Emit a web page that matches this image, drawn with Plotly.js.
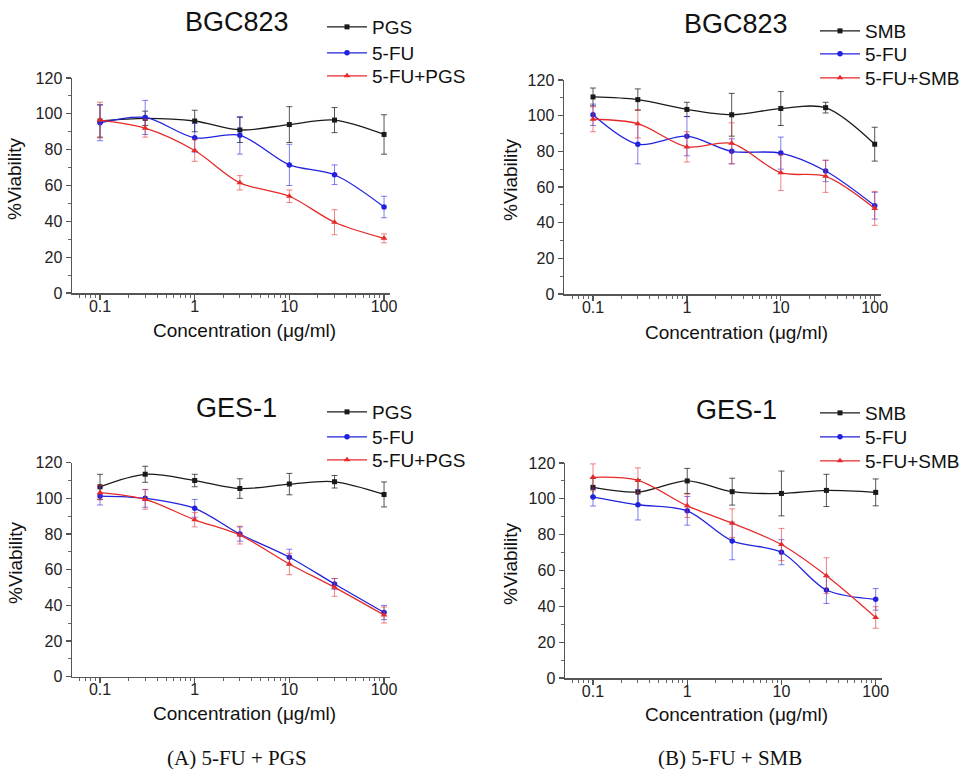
<!DOCTYPE html>
<html>
<head>
<meta charset="utf-8">
<script src="https://cdn.plot.ly/plotly-3.0.1.min.js"></script>
<style>html,body{margin:0;padding:0;background:#fff;}#chart{width:966px;height:769px;}</style>
</head>
<body>
<div id="chart"></div>
<script>
// ---- data ----
const concentrations = [0.1, 0.3, 1, 3, 10, 30, 100];

// (A) BGC823
const bgcPGS = [96, 97.5, 96, 91, 94, 96.5, 88.5];
const bgcPGSErr = [9, 4, 6, 7, 10, 7, 11];
const bgcFU_A = [95, 98, 86.6, 88, 71.5, 66, 48];
const bgcFU_AErr = [10, 9.5, 8, 10.5, 11.5, 5.5, 6];
const bgcFUPGS = [96.5, 92, 79.5, 61.5, 54, 39.5, 30.5];
const bgcFUPGSErr = [10, 5, 6, 4, 3.5, 7, 2.5];

// (B) BGC823
const bgcSMB = [110.5, 109, 103.5, 100.5, 104, 104.5, 84];
const bgcSMBErr = [5, 6, 4, 12, 9.5, 3, 9.5];
const bgcFU_B = [100.5, 84, 88.5, 80, 79, 69, 49.5];
const bgcFU_BErr = [6, 11, 11, 7, 9, 6, 7.5];
const bgcFUSMB = [98, 95.5, 82.5, 84.5, 68, 66, 48];
const bgcFUSMBErr = [7, 8, 8.5, 11.5, 10, 9, 9.5];

// (A) GES-1
const gesPGS = [106.5, 113.5, 110, 105.5, 108, 109.3, 102.2];
const gesPGSErr = [7, 4.5, 3.5, 5.5, 6, 3.5, 7];
const gesFU_A = [101.3, 100, 94.4, 80, 67, 52, 36];
const gesFU_AErr = [5, 5, 5, 4, 4.5, 3, 4];
const gesFUPGS = [103.2, 99.4, 88, 79.4, 63.2, 50.1, 34.6];
const gesFUPGSErr = [4, 5.5, 4, 5, 6, 5, 4.5];

// (B) GES-1
const gesSMB = [106.4, 103.8, 110, 104, 103, 104.7, 103.6];
const gesSMBErr = [5, 7, 7, 7.5, 12.5, 9, 7.5];
const gesFU_B = [101, 96.7, 93.3, 76.5, 70.2, 49.1, 43.9];
const gesFU_BErr = [5, 8.5, 8, 10.5, 7, 7.5, 6];
const gesFUSMB = [112, 110.3, 96.1, 86.4, 74.5, 57.1, 33.8];
const gesFUSMBErr = [7.5, 7, 6.5, 8, 9, 10, 6];

const panelTitles = ["BGC823", "BGC823", "GES-1", "GES-1"];
const xTickVals = [0.1, 1, 10, 100];
const xTickText = ["0.1", "1", "10", "100"];
const xAxisLabel = "Concentration (\u03bcg/ml)";
const yAxisLabel = "%Viability";
const captions = ["(A) 5-FU + PGS", "(B) 5-FU + SMB"];

// ---- styling ----
const W = 966, H = 769;
const SANS = "Liberation Sans, Arial, sans-serif";
const SERIF = "Liberation Serif, Times New Roman, serif";
const BLACK = "#1a1a1a", BLUE = "#2222dd", RED = "#e52a2a";
const px = v => v / W;
const py = v => 1 - v / H;

function series(x, y, err, name, color, errColor, symbol, size, xa, ya, legend) {
  return {
    type: "scatter", mode: "lines+markers", x: x, y: y, name: name,
    xaxis: xa, yaxis: ya, legend: legend,
    line: {color: color, width: 1.3, shape: "spline", smoothing: 0.9},
    marker: {color: color, symbol: symbol, size: size},
    error_y: {type: "data", array: err, visible: true, color: errColor, thickness: 1, width: 3}
  };
}

const EB = "rgba(30,30,30,0.75)", EBL = "rgba(40,40,230,0.6)", ERD = "rgba(230,50,50,0.6)";

const data = [
  series(concentrations, bgcPGS, bgcPGSErr, "PGS", BLACK, EB, "square", 5, "x", "y", "legend"),
  series(concentrations, bgcFU_A, bgcFU_AErr, "5-FU", BLUE, EBL, "circle", 5.5, "x", "y", "legend2"),
  series(concentrations, bgcFUPGS, bgcFUPGSErr, "5-FU+PGS", RED, ERD, "triangle-up", 6, "x", "y", "legend3"),

  series(concentrations, bgcSMB, bgcSMBErr, "SMB", BLACK, EB, "square", 5, "x2", "y2", "legend4"),
  series(concentrations, bgcFU_B, bgcFU_BErr, "5-FU", BLUE, EBL, "circle", 5.5, "x2", "y2", "legend5"),
  series(concentrations, bgcFUSMB, bgcFUSMBErr, "5-FU+SMB", RED, ERD, "triangle-up", 6, "x2", "y2", "legend6"),

  series(concentrations, gesPGS, gesPGSErr, "PGS", BLACK, EB, "square", 5, "x3", "y3", "legend7"),
  series(concentrations, gesFU_A, gesFU_AErr, "5-FU", BLUE, EBL, "circle", 5.5, "x3", "y3", "legend8"),
  series(concentrations, gesFUPGS, gesFUPGSErr, "5-FU+PGS", RED, ERD, "triangle-up", 6, "x3", "y3", "legend9"),

  series(concentrations, gesSMB, gesSMBErr, "SMB", BLACK, EB, "square", 5, "x4", "y4", "legend10"),
  series(concentrations, gesFU_B, gesFU_BErr, "5-FU", BLUE, EBL, "circle", 5.5, "x4", "y4", "legend11"),
  series(concentrations, gesFUSMB, gesFUSMBErr, "5-FU+SMB", RED, ERD, "triangle-up", 6, "x4", "y4", "legend12")
];

const minorX = [0.06,0.07,0.08,0.09,0.2,0.3,0.4,0.5,0.6,0.7,0.8,0.9,2,3,4,5,6,7,8,9,20,30,40,50,60,70,80,90];

function xAxis(dom, rng, anchor) {
  return {
    type: "log", domain: dom, range: rng, anchor: anchor,
    tickmode: "array", tickvals: xTickVals, ticktext: xTickText,
    ticks: "outside", ticklen: 5, tickwidth: 1.2, tickcolor: "#555",
    ticklabelstandoff: -7,
    minor: {tickmode: "array", tickvals: minorX, ticks: "outside", ticklen: 3, tickwidth: 1, tickcolor: "#666", showgrid: false},
    showline: true, linecolor: "#555", linewidth: 1.5, showgrid: false, zeroline: false,
    tickfont: {family: SANS, size: 16, color: "#222"}, fixedrange: true
  };
}
function yAxis(dom, anchor) {
  return {
    domain: dom, range: [0, 120], anchor: anchor,
    tickmode: "array", tickvals: [0, 20, 40, 60, 80, 100, 120],
    ticks: "outside", ticklen: 5, tickwidth: 1.2, tickcolor: "#555",
    minor: {tickmode: "array", tickvals: [10, 30, 50, 70, 90, 110], ticks: "outside", ticklen: 3, tickwidth: 1, tickcolor: "#666", showgrid: false},
    showline: true, linecolor: "#555", linewidth: 1.5, showgrid: false, zeroline: false,
    tickfont: {family: SANS, size: 16, color: "#222"}, fixedrange: true
  };
}

function legendAt(xpx, ypx) {
  return {
    x: px(xpx), y: py(ypx), xanchor: "left", yanchor: "top",
    font: {family: SANS, size: 19, color: "#111"},
    itemwidth: 40, bgcolor: "rgba(0,0,0,0)", borderwidth: 0, tracegroupgap: 0
  };
}

function textAnno(text, xpx, ypx, size, family, angle) {
  return {
    text: text, xref: "paper", yref: "paper", x: px(xpx), y: py(ypx),
    xanchor: "center", yanchor: "middle", showarrow: false,
    font: {family: family, size: size, color: "#111"}, textangle: angle || 0
  };
}

const layout = {
  width: W, height: H,
  margin: {l: 0, r: 0, t: 0, b: 0},
  paper_bgcolor: "#fff", plot_bgcolor: "rgba(0,0,0,0)",
  showlegend: true,
  xaxis: xAxis([px(72), px(390)], [-1.296, 2.063], "y"),
  yaxis: yAxis([py(293), py(78)], "x"),
  xaxis2: xAxis([px(564), px(881)], [-1.309, 2.067], "y2"),
  yaxis2: yAxis([py(294), py(80)], "x2"),
  xaxis3: xAxis([px(72), px(390)], [-1.296, 2.063], "y3"),
  yaxis3: yAxis([py(676.7), py(462.7)], "x3"),
  xaxis4: xAxis([px(565), px(882)], [-1.297, 2.067], "y4"),
  yaxis4: yAxis([py(678), py(463)], "x4"),
  legend: legendAt(322, 8),
  legend2: legendAt(322, 34),
  legend3: legendAt(322, 57),
  legend4: legendAt(815, 12),
  legend5: legendAt(815, 35),
  legend6: legendAt(815, 59),
  legend7: legendAt(322, 393),
  legend8: legendAt(322, 418),
  legend9: legendAt(322, 441),
  legend10: legendAt(815, 394),
  legend11: legendAt(815, 418),
  legend12: legendAt(815, 442),
  annotations: [
    textAnno(panelTitles[0], 237, 22, 27, SANS),
    textAnno(panelTitles[1], 736, 24, 27, SANS),
    textAnno(panelTitles[2], 236, 408, 27, SANS),
    textAnno(panelTitles[3], 736, 410, 27, SANS),
    textAnno(yAxisLabel, 15, 179, 19, SANS, -90),
    textAnno(yAxisLabel, 510, 180, 19, SANS, -90),
    textAnno(yAxisLabel, 15, 563, 19, SANS, -90),
    textAnno(yAxisLabel, 510, 564, 19, SANS, -90),
    textAnno(xAxisLabel, 244, 330, 19, SANS),
    textAnno(xAxisLabel, 736, 332, 19, SANS),
    textAnno(xAxisLabel, 244, 713, 19, SANS),
    textAnno(xAxisLabel, 736, 714, 19, SANS),
    textAnno(captions[0], 237, 758, 21, SERIF),
    textAnno(captions[1], 730, 758, 21, SERIF)
  ]
};

Plotly.newPlot("chart", data, layout, {displayModeBar: false, staticPlot: true});
</script>
</body>
</html>
